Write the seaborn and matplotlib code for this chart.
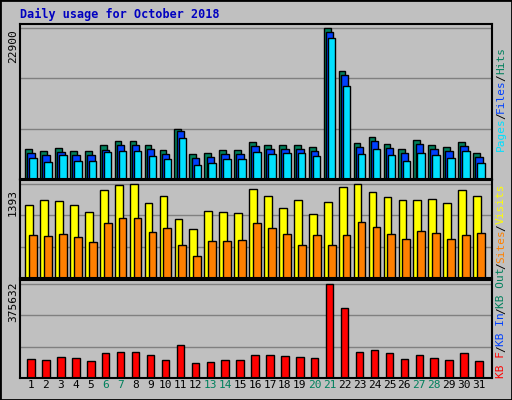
import numpy as np
import matplotlib
matplotlib.use('Agg')
import matplotlib.pyplot as plt
import seaborn as sns

# === DATA ===
days = list(range(1, 32))
weekend = [6, 7, 13, 14, 20, 21, 27, 28]
hits_px = [147, 149, 146, 149, 149, 143, 139, 139, 143, 148, 127, 152, 151, 148, 148, 140,
           143, 143, 143, 145, 29, 71, 141, 135, 142, 147, 138, 143, 145, 140, 151]
files_px = [151, 153, 150, 153, 153, 148, 143, 143, 147, 152, 129, 156, 155, 152, 152, 144,
            147, 147, 147, 149, 33, 75, 145, 139, 146, 151, 142, 147, 149, 144, 155]
pages_px = [156, 159, 153, 158, 158, 150, 149, 149, 154, 157, 136, 162, 160, 157, 157, 150,
            152, 151, 151, 154, 39, 85, 152, 147, 153, 158, 151, 153, 156, 149, 160]
visits_px = [205, 200, 201, 205, 211, 190, 185, 184, 203, 196, 218, 228, 210, 211, 212, 189,
             196, 207, 200, 213, 202, 187, 184, 192, 197, 200, 200, 199, 203, 190, 196]
sites_px = [234, 235, 233, 236, 241, 222, 217, 217, 231, 227, 244, 254, 240, 240, 239, 222,
            227, 233, 244, 234, 244, 234, 221, 226, 233, 238, 230, 232, 238, 234, 232]
kb_px = [357, 358, 355, 356, 359, 352, 351, 351, 353, 358, 344, 361, 360, 358, 358, 353,
         353, 354, 355, 356, 284, 307, 351, 349, 352, 357, 353, 356, 358, 352, 359]

hits = [(176 - y) / 147 * 22900 for y in hits_px]
files = [(176 - y) / 147 * 22900 for y in files_px]
pages = [(176 - y) / 147 * 22900 for y in pages_px]
visits = [(276 - y) / 92 * 1393 for y in visits_px]
sites = [(276 - y) / 92 * 1393 for y in sites_px]
kbytes = [(376 - y) / 92 * 375632 for y in kb_px]

sns.set_style('white')
plt.rcParams['font.family'] = ['DejaVu Sans Mono']

BG = '#c0c0c0'
W, H = 512, 400
fig = plt.figure(figsize=(W / 100, H / 100), dpi=100, facecolor=BG)

def px_axes(x0, y0, x1, y1):
    return fig.add_axes([x0 / W, 1 - y1 / H, (x1 - x0) / W, (y1 - y0) / H])

x = np.array(days, dtype=float)
panels = [
    (24, 179, 22900, [(hits, '#00805c', -0.17, 0.45), (files, '#0040ff', 0.0, 0.5), (pages, '#00e0ff', 0.13, 0.5)]),
    (180, 278, 1393, [(visits, '#ffff00', -0.13, 0.52), (sites, '#ff8000', 0.13, 0.52)]),
    (280, 378, 375632, [(kbytes, '#ff0000', 0.0, 0.5)]),
]
axes = []
for top, bot, vmax, series in panels:
    ax = px_axes(20, top, 492, bot)
    ax.set_facecolor(BG)
    ymax = vmax * (bot - top) / (bot - top - 4)
    ax.set_ylim(0, ymax)
    ax.set_xlim(0.26, 31.87)
    for frac in (1 / 3, 2 / 3, 1):
        ax.axhline(vmax * frac, color='#808080', lw=1, zorder=0)
    for vals, col, off, w in series:
        ax.bar(x + off, vals, width=w, color=col, edgecolor='black', linewidth=1, zorder=2)
    ax.set_yticks([])
    ax.set_xticks([])
    for s in ax.spines.values():
        s.set_color('black')
        s.set_linewidth(1.5)
    fig.text(13 / W, 1 - (top + 22) / H, str(vmax), rotation=90, ha='center', va='center',
             fontsize=8, color='black')
    axes.append(ax)

# x tick labels
ax = axes[-1]
for d in days:
    ax.text(d, -0.02, str(d), transform=ax.get_xaxis_transform(), ha='center', va='top',
            fontsize=8, color='#00805c' if d in weekend else 'black')

fig.text(20 / W, 1 - 14 / H, 'Daily usage for October 2018', fontsize=8.5, fontweight='bold',
         color='#0000c0', va='center', ha='left')

def vlegend(items, ycenter):
    # right side rotated legend, drawn bottom-to-top
    total = sum(len(t) for t, _ in items) + len(items) - 1
    ch = 6.4
    y = ycenter + total * ch / 2
    for i, (t, c) in enumerate(items):
        fig.text(501 / W, 1 - y / H, t, rotation=90, ha='center', va='bottom', fontsize=8,
                 color=c)
        y -= len(t) * ch
        if i < len(items) - 1:
            fig.text(501 / W, 1 - y / H, '/', rotation=90, ha='center', va='bottom', fontsize=8,
                     color='black')
            y -= ch

vlegend([('Pages', '#00e0ff'), ('Files', '#0040ff'), ('Hits', '#00805c')], 100)
vlegend([('KB F', '#ff0000'), ('KB In', '#0040ff'), ('KB Out', '#00805c'),
         ('Sites', '#ff8000'), ('Visits', '#ffff00')], 282)

fig.patches.append(plt.Rectangle((0, 0), 1, 1, transform=fig.transFigure, fill=False,
                                 edgecolor='black', lw=2))

fig.savefig('out.png', dpi=100, facecolor=BG)
